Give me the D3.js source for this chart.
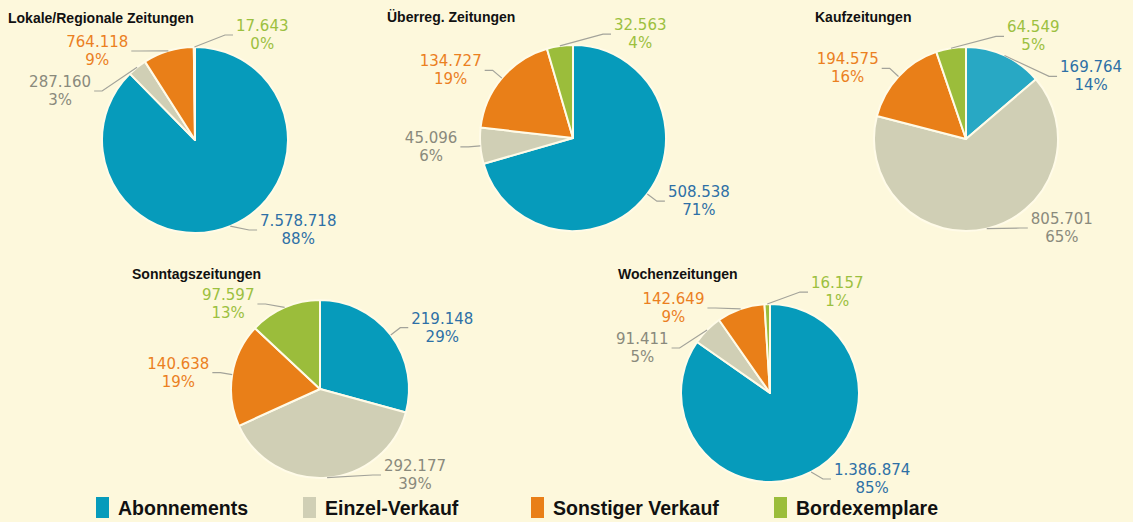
<!DOCTYPE html>
<html>
<head>
<meta charset="utf-8">
<script src="https://cdn.jsdelivr.net/npm/d3@7"></script>
<style>
  body { margin: 0; background: #fdf8dc; }
  svg { display: block; }
</style>
</head>
<body>
<script>
// Kategorien und Werte (Auflage nach Vertriebsart)
var categories = ["Abonnements", "Einzel-Verkauf", "Sonstiger Verkauf", "Bordexemplare"];
var titles = ["Lokale/Regionale Zeitungen", "Überreg. Zeitungen", "Kaufzeitungen", "Sonntagszeitungen", "Wochenzeitungen"];

var lokale   = [7578718, 287160, 764118, 17643];
var ueberreg = [508538, 45096, 134727, 32563];
var kauf     = [169764, 805701, 194575, 64549];
var sonntag  = [219148, 292177, 140638, 97597];
var wochen   = [1386874, 91411, 142649, 16157];

// Prozentangaben so wie sie im Original stehen
var lokalePct   = ["88%", "3%", "9%", "0%"];
var ueberregPct = ["71%", "6%", "19%", "4%"];
var kaufPct     = ["14%", "65%", "16%", "5%"];
var sonntagPct  = ["29%", "39%", "19%", "13%"];
var wochenPct   = ["85%", "5%", "9%", "1%"];

var series = [lokale, ueberreg, kauf, sonntag, wochen];
var percents = [lokalePct, ueberregPct, kaufPct, sonntagPct, wochenPct];

// Farben
var sliceColors = ["#069bbb", "#d0cfb5", "#e97f18", "#9bbd3b"];
var labelColors = ["#2e70a6", "#8a8a7c", "#eb801f", "#9cc03f"];

// Lage der einzelnen Torten
var width = 1133, height = 522;
var panels = [
  {cx: 195, cy: 140, r: 93, tx: 8,   ty: 23},
  {cx: 573, cy: 138, r: 93, tx: 387, ty: 22},
  {cx: 966, cy: 139, r: 92, tx: 815, ty: 22, abo: "#28a8c4"},
  {cx: 320, cy: 389, r: 89, tx: 132, ty: 279},
  {cx: 770, cy: 393, r: 89, tx: 618, ty: 279}
];
var legendX = [96, 303, 531, 774];

var de = d3.formatLocale({decimal: ",", thousands: ".", grouping: [3], currency: ["", " €"]});
var fmt = de.format(",d");

var svg = d3.select("body").append("svg")
    .attr("width", width)
    .attr("height", height);

svg.append("rect")
    .attr("width", width)
    .attr("height", height)
    .attr("fill", "#fdf8dc");

var pie = d3.pie().sort(null).value(function(d) { return d; });

series.forEach(function(values, k) {
  var p = panels[k];
  var g = svg.append("g");
  var arc = d3.arc().innerRadius(0).outerRadius(p.r);
  var arcs = pie(values);

  var color = function(i) { return (i === 0 && p.abo) ? p.abo : sliceColors[i]; };

  // Titel
  g.append("text")
      .attr("x", p.tx)
      .attr("y", p.ty)
      .attr("font-family", "'Liberation Sans', Arial, sans-serif")
      .attr("font-weight", "bold")
      .attr("font-size", "14px")
      .attr("fill", "#111")
      .text(titles[k]);

  // Tortenstücke
  g.append("g")
      .attr("transform", "translate(" + p.cx + "," + p.cy + ")")
    .selectAll("path")
    .data(arcs)
    .enter().append("path")
      .attr("d", arc)
      .attr("fill", function(d, i) { return color(i); })
      .attr("stroke", "#fffbe8")
      .attr("stroke-width", 2)
      .attr("stroke-linejoin", "round");

  // Beschriftungen: Position am Mittelwinkel, dann Überlappungen auflösen
  var rr = p.r + 12, gap = 40;
  var items = arcs.map(function(a, i) {
    var mid = (a.startAngle + a.endAngle) / 2;
    return {
      i: i,
      side: Math.sin(mid) > -0.2 ? 1 : -1,
      x0: p.cx + p.r * Math.sin(mid),
      y0: p.cy - p.r * Math.cos(mid),
      y: p.cy - rr * Math.cos(mid)
    };
  });

  [1, -1].forEach(function(side) {
    var list = items.filter(function(d) { return d.side === side; })
                    .sort(function(a, b) { return a.y - b.y; });
    var minY = side < 0 ? p.cy - p.r + 4 : p.cy - p.r - 22;
    var maxY = p.cy + p.r - 3;
    var prev = minY - gap;
    list.forEach(function(d) { d.y = Math.max(d.y, prev + gap); prev = d.y; });
    var next = maxY + gap;
    list.slice().reverse().forEach(function(d) { d.y = Math.min(d.y, next - gap); next = d.y; });
  });

  items.forEach(function(d) {
    var dy = d.y - p.cy;
    var h = Math.sqrt(Math.max(0, rr * rr - dy * dy));
    d.x1 = p.cx + d.side * Math.max(h, 30);
    d.x2 = d.x1 + d.side * 8;
  });

  var lab = g.selectAll(".lab").data(items).enter().append("g").attr("class", "lab");

  lab.append("polyline")
      .attr("points", function(d) { return [[d.x0, d.y0], [d.x1, d.y], [d.x2, d.y]].join(" "); })
      .attr("fill", "none")
      .attr("stroke", "#a3a39a")
      .attr("stroke-width", 1.2);

  var txt = lab.append("text")
      .attr("font-family", "'DejaVu Sans', Verdana, sans-serif")
      .attr("font-size", "15px")
      .attr("text-anchor", "middle")
      .attr("fill", function(d) { return labelColors[d.i]; });

  txt.append("tspan").attr("class", "num").text(function(d) { return fmt(values[d.i]); });
  txt.append("tspan").attr("class", "pct").text(function(d) { return percents[k][d.i]; });

  txt.each(function(d) {
    var t = d3.select(this);
    var w = t.select(".num").node().getComputedTextLength();
    var cx = d.x2 + d.side * (w / 2 + 3);
    t.select(".num").attr("x", cx).attr("y", d.y - 4);
    t.select(".pct").attr("x", cx).attr("y", d.y + 14);
  });
});

// Legende
var legend = svg.append("g").selectAll("g")
    .data(categories)
    .enter().append("g")
      .attr("transform", function(d, i) { return "translate(" + legendX[i] + ",497)"; });

legend.append("rect")
    .attr("width", 13)
    .attr("height", 21)
    .attr("fill", function(d, i) { return sliceColors[i]; });

legend.append("text")
    .attr("x", 22)
    .attr("y", 18)
    .attr("font-family", "'Liberation Sans', Arial, sans-serif")
    .attr("font-weight", "bold")
    .attr("font-size", "19.5px")
    .attr("fill", "#111")
    .text(function(d) { return d; });
</script>
</body>
</html>
